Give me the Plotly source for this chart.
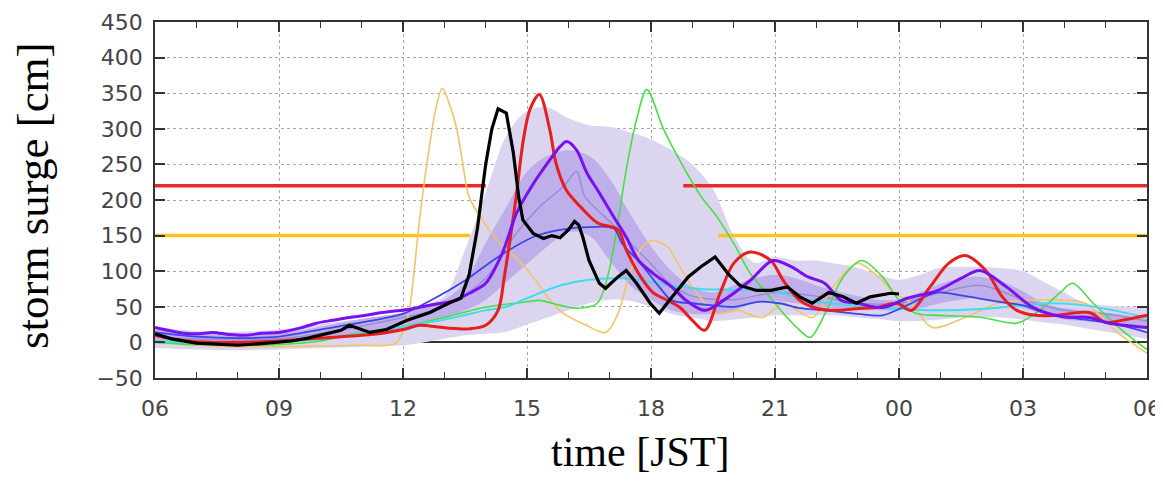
import plotly.graph_objects as go

# ---------------- data (hours since 00 JST of day 1; 30 = 06 next day) ----------------
tick_hours = [6, 9, 12, 15, 18, 21, 24, 27, 30]
tick_labels = ["06", "09", "12", "15", "18", "21", "00", "03", "06"]

warn_red_level = 220
warn_yellow_level = 150
warn_red_x = [6, 14.0, None, 18.78, 30]
warn_yellow_x = [6, 13.62, None, 19.62, 30]

band_hours = [6, 7, 8, 9, 10, 11, 12, 12.5, 13, 13.5, 14, 14.5, 15, 15.5, 16, 16.5, 17, 17.5, 18,
              18.5, 19, 19.5, 20, 20.5, 21, 21.5, 22, 22.5, 23, 23.5, 24, 24.5, 25, 25.5, 26, 26.5,
              27, 27.5, 28, 28.5, 29, 29.5, 30]
outer_upper = [22, 16, 15, 18, 26, 33, 42, 52, 65, 130, 210, 290, 325, 330, 315, 305, 303, 295, 285,
               270, 250, 215, 150, 112, 120, 115, 115, 110, 105, 95, 88, 95, 105, 106, 106, 104,
               100, 85, 70, 55, 52, 50, 48]
outer_lower = [-8, -10, -11, -10, -8, -6, -4, 0, 5, 10, 12, 15, 25, 35, 45, 55, 60, 58, 50,
               40, 35, 30, 32, 35, 38, 38, 38, 38, 35, 33, 30, 30, 32, 35, 35, 35,
               32, 28, 25, 20, 15, 10, 5]
inner_upper = [18, 12, 10, 12, 22, 33, 42, 50, 60, 85, 140, 190, 240, 262, 270, 262, 230, 180, 135,
               100, 78, 70, 80, 90, 95, 90, 80, 72, 65, 60, 60, 70, 82, 90, 92, 85,
               72, 55, 48, 45, 42, 38, 33]
inner_lower = [4, 0, -2, 0, 5, 12, 20, 28, 35, 45, 60, 85, 110, 135, 155, 150, 115, 80, 60,
               45, 40, 40, 45, 55, 58, 55, 50, 48, 45, 45, 45, 48, 55, 60, 62, 55,
               48, 40, 32, 30, 28, 24, 20]

median_hours = [6, 9, 12, 13, 14, 14.7, 15.3, 15.9, 16.2, 16.4, 17, 17.5, 18, 18.5, 19, 20, 21, 22,
                23, 24, 25, 26, 27, 28, 29, 30]
median_vals = [8, 5, 35, 50, 90, 150, 190, 220, 240, 205, 170, 140, 110, 80, 65, 60, 70, 65,
               55, 55, 70, 80, 60, 45, 40, 30]

orange_hours = [6, 7, 8, 9, 10, 11, 11.8, 12.0, 12.15, 12.4, 12.6, 12.8, 12.95, 13.15, 13.3, 13.45,
                13.6, 14.0, 14.35, 14.75, 15.15, 15.55, 15.9, 16.4, 16.9, 17.2, 17.5, 17.8, 18.05,
                18.4, 18.75, 19.1, 19.6, 20.1, 20.7, 21.2, 21.9, 22.4, 23.0, 23.5, 23.9, 24.3, 24.8,
                25.6, 26.4, 27.0, 28.0, 28.5, 29.3, 30]
orange_vals = [0, -4, -6, -6, -5, -4, -2, 15, 45, 172, 260, 330, 357, 330, 300, 250,
               204, 165, 139, 118, 92, 60, 40, 25, 14, 40, 100, 135, 143,
               134, 101, 70, 40, 45, 35, 55, 35, 78, 111, 92, 69, 55, 21,
               35, 55, 59, 59, 55, 13, -15]

green_hours = [6, 7, 8, 9, 10, 10.8, 11.5, 12, 13, 13.95, 15, 15.3, 15.8, 16.2, 16.7, 16.95, 17.17,
               17.4, 17.65, 17.9, 18.3, 18.75, 19.2, 19.6, 20.0, 20.4, 20.8, 21.2, 21.6, 21.85,
               22.25, 22.65, 23.1, 23.6, 24.0, 24.4, 25.0, 26.0, 26.85, 27.4, 27.9, 28.2, 28.7,
               29.4, 30]
green_vals = [0, -3, -4, -3, 2, 12, 18, 22, 35, 49, 57, 59, 52, 48, 55, 92, 158,
              242, 313, 355, 300, 250, 206, 176, 139, 97, 69, 41, 17, 7,
              45, 92, 115, 92, 59, 41, 38, 35, 27, 45, 70, 83, 55,
              17, -10]

cyan_hours = [6, 8, 9, 10, 11, 12, 13, 14, 14.5, 15, 15.8, 16.5, 17.3, 18, 18.7, 19.2, 20, 21,
              21.6, 22.3, 23, 24, 25, 26, 27, 27.7, 28.5, 29.2, 30]
cyan_vals = [2, -2, 0, 5, 12, 22, 32, 45, 50, 62, 80, 88, 90, 85, 78, 75, 74, 72,
             62, 55, 52, 47, 45, 47, 52, 55, 52, 45, 35]

blue_hours = [6, 7, 8, 9, 10, 11, 12, 12.7, 13.5, 14.3, 15.15, 15.8, 16.5, 17.1, 17.3, 17.75, 18.2,
              18.5, 19.0, 19.5, 20.0, 20.6, 21.1, 21.6, 22.2, 23.0, 23.6, 24.3, 24.9, 25.5, 26.3,
              27.0, 27.6, 28.5, 29.3, 30]
blue_vals = [14, 8, 6, 8, 18, 28, 40, 60, 87, 120, 148, 158, 162, 160, 139, 111, 78,
             59, 55, 52, 50, 57, 55, 48, 45, 40, 38, 55, 70, 66, 58,
             52, 40, 32, 25, 14]

red_hours = [6, 6.5, 7, 8, 9, 9.5, 10, 10.5, 11, 11.5, 12, 12.4, 12.8, 13.1, 13.6, 14.0, 14.3,
             14.45, 14.6, 14.75, 14.9, 15.07, 15.3, 15.55, 15.7, 15.95, 16.3, 16.7, 17.2, 17.4,
             17.75, 18.05, 18.4, 18.7, 19.0, 19.3, 19.67, 20.0, 20.4, 20.9, 21.2, 21.6, 22.0,
             22.5, 23.1, 23.45, 23.95, 24.3, 24.75, 25.2, 25.6, 26.1, 26.5, 26.85, 27.3, 27.8,
             28.6, 29.0, 29.4, 30]
red_vals = [10, 4, 1, 0, 2, 4, 6, 8, 10, 13, 18, 24, 22, 20, 19, 24, 45,
            92, 148, 210, 280, 327, 348, 299, 252, 214, 190, 168, 158, 130,
            92, 70, 59, 49, 31, 17, 69, 111, 127, 115, 87, 59, 48,
            45, 48, 49, 55, 45, 78, 111, 122, 101, 64, 45, 38, 38,
            42, 28, 31, 38]

purple_hours = [6, 6.4, 6.7, 7.0, 7.4, 7.8, 8.2, 8.6, 9.0, 9.5, 9.9, 10.3, 10.7, 11.1, 11.5, 12.2,
                12.7, 13.2, 13.6, 14.0, 14.4, 14.75, 15.1, 15.5, 15.8, 15.96, 16.2, 16.45, 16.75,
                17.1, 17.4, 17.7, 18.05, 18.5, 18.85, 19.3, 19.75, 20.4, 20.95, 21.4, 21.8, 22.2,
                22.6, 23.0, 23.6, 24.2, 24.9, 25.5, 25.96, 26.6, 27.25, 27.97, 28.6, 29.1, 30]
purple_vals = [21, 16, 13, 12, 14, 11, 10, 13, 14, 20, 27, 31, 35, 38, 42, 47,
               53, 58, 69, 83, 125, 182, 218, 252, 275, 282, 270, 238, 210,
               176, 148, 115, 97, 78, 59, 45, 59, 87, 115, 106, 92, 83,
               59, 55, 49, 62, 72, 90, 101, 78, 49, 36, 35, 27, 21]

obs_hours = [6.0, 6.4, 7.0, 7.5, 8.0, 8.5, 8.9, 9.3, 9.7, 10.1, 10.5, 10.7, 10.9, 11.2, 11.6, 12.1,
             12.65, 13.1, 13.4, 13.6, 13.8, 14.0, 14.15, 14.3, 14.5, 14.67, 14.8, 14.9, 15.15,
             15.4, 15.6, 15.8, 16.0, 16.15, 16.25, 16.35, 16.5, 16.75, 16.9, 17.2, 17.4, 17.65,
             17.98, 18.2, 18.5, 18.9, 19.2, 19.55, 19.9, 20.15, 20.55, 20.9, 21.3, 21.6, 21.9,
             22.3, 22.65, 22.97, 23.3, 23.8, 24.0]
obs_vals = [12, 5, -1, -3, -4, -2, 0, 2, 6, 12, 17, 24, 20, 14, 18, 31,
            42, 55, 62, 95, 160, 250, 300, 328, 322, 266, 204, 172, 153,
            146, 150, 147, 158, 170, 165, 148, 115, 83, 76, 92, 101, 83,
            55, 41, 63, 92, 106, 120, 94, 80, 73, 73, 78, 64, 55,
            70, 64, 55, 64, 69, 68]

x_title = "time [JST]"
y_title = "storm surge [cm]"

# ---------------- figure ----------------
fig = go.Figure()

fig.add_trace(go.Scatter(x=band_hours, y=outer_lower, mode="lines", line=dict(width=0, shape="spline"),
                         hoverinfo="skip", showlegend=False))
fig.add_trace(go.Scatter(x=band_hours, y=outer_upper, mode="lines", line=dict(width=0, shape="spline"),
                         fill="tonexty", fillcolor="#DCD5EF", hoverinfo="skip", showlegend=False))
fig.add_trace(go.Scatter(x=band_hours, y=inner_lower, mode="lines", line=dict(width=0, shape="spline"),
                         hoverinfo="skip", showlegend=False))
fig.add_trace(go.Scatter(x=band_hours, y=inner_upper, mode="lines", line=dict(width=0, shape="spline"),
                         fill="tonexty", fillcolor="#BEAEE9", hoverinfo="skip", showlegend=False))

fig.add_trace(go.Scatter(x=warn_red_x, y=[warn_red_level if v is not None else None for v in warn_red_x],
                         mode="lines", line=dict(color="#F02828", width=3.5), showlegend=False,
                         connectgaps=False))
fig.add_trace(go.Scatter(x=warn_yellow_x, y=[warn_yellow_level if v is not None else None for v in warn_yellow_x],
                         mode="lines", line=dict(color="#FFC21E", width=3.5), showlegend=False,
                         connectgaps=False))

sm = 0.9
fig.add_trace(go.Scatter(x=median_hours, y=median_vals, mode="lines",
                         line=dict(color="#9C8CD8", width=1.5, shape="spline", smoothing=sm), showlegend=False))
fig.add_trace(go.Scatter(x=orange_hours, y=orange_vals, mode="lines",
                         line=dict(color="#F2C46A", width=1.6, shape="spline", smoothing=sm), showlegend=False))
fig.add_trace(go.Scatter(x=green_hours, y=green_vals, mode="lines",
                         line=dict(color="#44E044", width=1.6, shape="spline", smoothing=sm), showlegend=False))
fig.add_trace(go.Scatter(x=cyan_hours, y=cyan_vals, mode="lines",
                         line=dict(color="#40DCEC", width=2, shape="spline", smoothing=sm), showlegend=False))
fig.add_trace(go.Scatter(x=blue_hours, y=blue_vals, mode="lines",
                         line=dict(color="#3C46E8", width=1.8, shape="spline", smoothing=sm), showlegend=False))
fig.add_trace(go.Scatter(x=red_hours, y=red_vals, mode="lines",
                         line=dict(color="#E81E1E", width=3, shape="spline", smoothing=sm), showlegend=False))
fig.add_trace(go.Scatter(x=purple_hours, y=purple_vals, mode="lines",
                         line=dict(color="#7A10F0", width=3, shape="spline", smoothing=sm), showlegend=False))
fig.add_trace(go.Scatter(x=obs_hours, y=obs_vals, mode="lines",
                         line=dict(color="#000000", width=3.2), showlegend=False))

tick_font = dict(family="DejaVu Sans, sans-serif", size=22, color="#444444")
title_font = dict(family="Liberation Serif, Times New Roman, serif", size=45, color="#000000")
x_title_font = dict(family="Liberation Serif, Times New Roman, serif", size=42, color="#000000")

# page body has an 8px margin: figure is sized/placed to compensate
fig.update_layout(
    width=1155, height=470,
    margin=dict(l=147, r=16, t=14, b=100, autoexpand=False),
    paper_bgcolor="white", plot_bgcolor="white",
    showlegend=False,
    annotations=[
        dict(text=y_title, xref="paper", yref="paper", x=-0.123, y=0.514, xanchor="center",
             yanchor="middle", textangle=-90, showarrow=False, font=title_font),
        dict(text=x_title, xref="paper", yref="paper", x=0.489, y=-0.278, xanchor="center",
             yanchor="bottom", showarrow=False, font=x_title_font),
    ],
)
fig.update_xaxes(
    range=[6, 30], tickvals=tick_hours, ticktext=tick_labels, automargin=False,
    ticks="inside", ticklen=10, tickwidth=1.5, tickcolor="#333333",
    minor=dict(dtick=1, ticks="inside", ticklen=6, tickwidth=1.2, tickcolor="#333333", showgrid=False),
    showline=True, linecolor="#333333", linewidth=1.5, mirror="ticks",
    showgrid=True, gridcolor="#A8A8A8", griddash="dot", gridwidth=1,
    zeroline=False, tickfont=tick_font, ticklabelstandoff=10,
)
fig.update_yaxes(
    range=[-50, 450], dtick=50, tick0=0, automargin=False,
    ticks="inside", ticklen=10, tickwidth=1.5, tickcolor="#333333",
    showline=True, linecolor="#333333", linewidth=1.5, mirror="ticks",
    showgrid=True, gridcolor="#A8A8A8", griddash="dot", gridwidth=1,
    zeroline=True, zerolinecolor="#333333", zerolinewidth=1.5,
    tickfont=tick_font, ticklabelstandoff=6,
)

fig.write_html("out.html")
